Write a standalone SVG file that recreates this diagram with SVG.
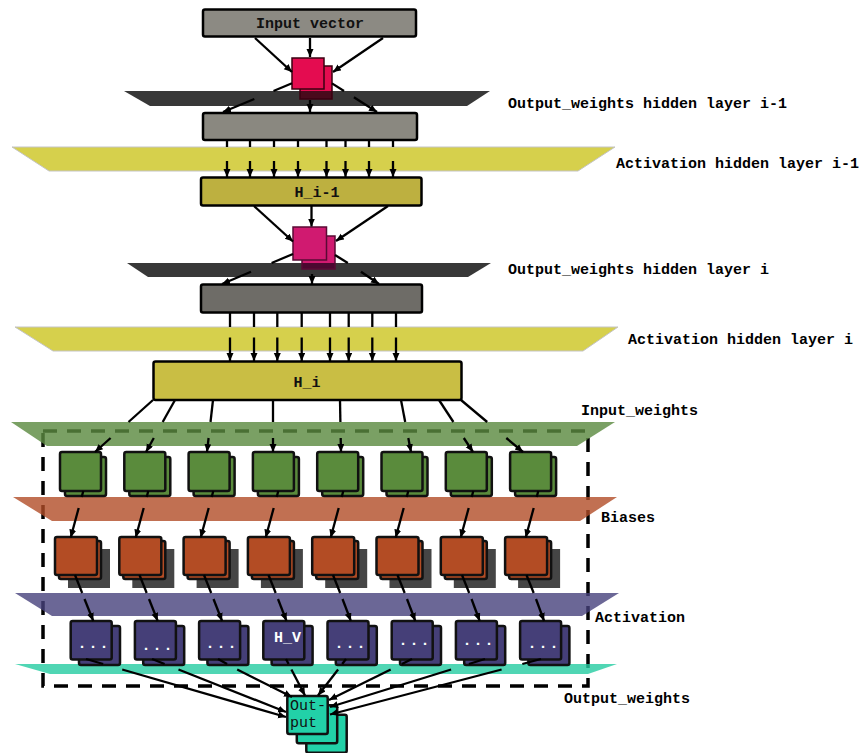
<svg xmlns="http://www.w3.org/2000/svg" width="867" height="753" viewBox="0 0 867 753">
<defs>
<style>
.box{stroke:#000;stroke-width:2.5}
.sq{stroke:#111;stroke-width:2.5}
.conn line{stroke:#000;stroke-width:2.3}
.a{marker-end:url(#ah)}
.lbl{font-family:"Liberation Mono","Courier New",monospace;font-weight:bold;font-size:15px;fill:#000}
.ntx{font-family:"Liberation Mono","Courier New",monospace;font-weight:bold;font-size:15px;fill:#111;text-anchor:middle}
.wtx{font-family:"Liberation Mono","Courier New",monospace;font-weight:bold;font-size:15px;fill:#fff;text-anchor:middle}
.ypl{fill:#d6d04c;stroke:#c4c4c4;stroke-width:1}
.dpl{fill:#383838}
</style>
<marker id="ah" markerUnits="userSpaceOnUse" markerWidth="9" markerHeight="8" refX="8" refY="3.5" orient="auto">
<path d="M0,0 L8,3.5 L0,7 z" fill="#000"/>
</marker>
<linearGradient id="gRed" gradientUnits="userSpaceOnUse" x1="0" y1="66" x2="0" y2="99">
<stop offset="0.758" stop-color="#e40c50"/><stop offset="0.758" stop-color="#4a0a1c"/>
</linearGradient>
<linearGradient id="gMag" gradientUnits="userSpaceOnUse" x1="0" y1="236" x2="0" y2="269">
<stop offset="0.818" stop-color="#d01a70"/><stop offset="0.818" stop-color="#4b0830"/>
</linearGradient>
<rect id="gsq" width="41" height="39" rx="2"/>
</defs>

<!-- dashed boundary under translucent planes -->
<rect id="boundary" x="43" y="431" width="545" height="255" fill="none" stroke="#000" stroke-width="3.5" stroke-dasharray="14 10"/>

<g id="planes">
<polygon id="plane-ow1" class="dpl" points="124,91 490,91 467,106 150,106"/>
<polygon id="plane-act1" class="ypl" points="12,147 615,147 578,171 49,171"/>
<polygon id="plane-ow2" class="dpl" points="127,263 491,263 468,277 148,277"/>
<polygon id="plane-act2" class="ypl" points="15,327 618,327 583,351 53,351"/>
<polygon id="plane-inw" points="11,422 615,422 577,446 47,446" fill="rgb(91,138,64)" fill-opacity="0.81"/>
<polygon id="plane-bias" points="13,497 617,497 580,521 52,521" fill="rgb(178,76,39)" fill-opacity="0.8"/>
<polygon id="plane-act" points="15,593 619,593 582,616 52,616" fill="rgb(70,65,124)" fill-opacity="0.8"/>
<polygon id="plane-outw" points="15,664 617,664 588,674 50,674" fill="rgb(36,204,161)" fill-opacity="0.8"/>
</g>

<g id="labels">
<text class="lbl" x="508" y="108">Output_weights hidden layer i-1</text>
<text class="lbl" x="616" y="168">Activation hidden layer i-1</text>
<text class="lbl" x="508" y="274">Output_weights hidden layer i</text>
<text class="lbl" x="628" y="344">Activation hidden layer i</text>
<text class="lbl" x="581" y="415">Input_weights</text>
<text class="lbl" x="601" y="522">Biases</text>
<text class="lbl" x="595" y="622">Activation</text>
<text class="lbl" x="564" y="703">Output_weights</text>
</g>

<g id="node-input">
<rect class="box" x="203" y="9.5" width="213" height="27" rx="2" fill="#8c8a83"/>
<text class="ntx" x="310" y="27.5">Input vector</text>
</g>
<g id="node-w1">
<rect x="300" y="66" width="32" height="33" fill="url(#gRed)" stroke="#3a0010" stroke-width="1.5"/>
<rect x="292" y="58" width="32" height="31" fill="#e40c50" stroke="#3a0010" stroke-width="1.5"/>
</g>
<g id="node-box2">
<rect class="box" x="203" y="113" width="214" height="27" rx="2" fill="#8a8880"/>
</g>
<g id="node-hi1">
<rect class="box" x="201" y="177.5" width="220.5" height="28" rx="2" fill="#bdb040"/>
<text class="ntx" x="317" y="197">H_i-1</text>
</g>
<g id="node-w2">
<rect x="302" y="236" width="33" height="33" fill="url(#gMag)" stroke="#5a0a35" stroke-width="1.5"/>
<rect x="293" y="227" width="33.5" height="33" fill="#d01a70" stroke="#5a0a35" stroke-width="1.5"/>
</g>
<g id="node-box3">
<rect class="box" x="201" y="284.5" width="221" height="28" rx="2" fill="#6e6c67"/>
</g>
<g id="node-hi">
<rect class="box" x="153.5" y="361.5" width="308" height="38.5" rx="2" fill="#c9be44"/>
<text class="ntx" x="307" y="387">H_i</text>
</g>

<g id="green-nodes" fill="#5a8b3c">
<g id="g1"><rect class="sq" x="65" y="457" width="41" height="39" rx="2"/><rect class="sq" x="60" y="452" width="41" height="39" rx="2"/></g>
<g id="g2"><rect class="sq" x="129.3" y="457" width="41" height="39" rx="2"/><rect class="sq" x="124.3" y="452" width="41" height="39" rx="2"/></g>
<g id="g3"><rect class="sq" x="193.6" y="457" width="41" height="39" rx="2"/><rect class="sq" x="188.6" y="452" width="41" height="39" rx="2"/></g>
<g id="g4"><rect class="sq" x="257.9" y="457" width="41" height="39" rx="2"/><rect class="sq" x="252.9" y="452" width="41" height="39" rx="2"/></g>
<g id="g5"><rect class="sq" x="322.2" y="457" width="41" height="39" rx="2"/><rect class="sq" x="317.2" y="452" width="41" height="39" rx="2"/></g>
<g id="g6"><rect class="sq" x="386.5" y="457" width="41" height="39" rx="2"/><rect class="sq" x="381.5" y="452" width="41" height="39" rx="2"/></g>
<g id="g7"><rect class="sq" x="450.8" y="457" width="41" height="39" rx="2"/><rect class="sq" x="445.8" y="452" width="41" height="39" rx="2"/></g>
<g id="g8"><rect class="sq" x="515.1" y="457" width="41" height="39" rx="2"/><rect class="sq" x="510.1" y="452" width="41" height="39" rx="2"/></g>
</g>

<g id="orange-nodes" fill="#b34c24">
<g id="o1"><rect x="68" y="549" width="42" height="39" fill="#454545"/><rect class="sq" x="59" y="541" width="42" height="38" rx="2"/><rect class="sq" x="55" y="537" width="42" height="38" rx="2"/></g>
<g id="o2"><rect x="132.3" y="549" width="42" height="39" fill="#454545"/><rect class="sq" x="123.3" y="541" width="42" height="38" rx="2"/><rect class="sq" x="119.3" y="537" width="42" height="38" rx="2"/></g>
<g id="o3"><rect x="196.6" y="549" width="42" height="39" fill="#454545"/><rect class="sq" x="187.6" y="541" width="42" height="38" rx="2"/><rect class="sq" x="183.6" y="537" width="42" height="38" rx="2"/></g>
<g id="o4"><rect x="260.9" y="549" width="42" height="39" fill="#454545"/><rect class="sq" x="251.9" y="541" width="42" height="38" rx="2"/><rect class="sq" x="247.9" y="537" width="42" height="38" rx="2"/></g>
<g id="o5"><rect x="325.2" y="549" width="42" height="39" fill="#454545"/><rect class="sq" x="316.2" y="541" width="42" height="38" rx="2"/><rect class="sq" x="312.2" y="537" width="42" height="38" rx="2"/></g>
<g id="o6"><rect x="389.5" y="549" width="42" height="39" fill="#454545"/><rect class="sq" x="380.5" y="541" width="42" height="38" rx="2"/><rect class="sq" x="376.5" y="537" width="42" height="38" rx="2"/></g>
<g id="o7"><rect x="453.8" y="549" width="42" height="39" fill="#454545"/><rect class="sq" x="444.8" y="541" width="42" height="38" rx="2"/><rect class="sq" x="440.8" y="537" width="42" height="38" rx="2"/></g>
<g id="o8"><rect x="518.1" y="549" width="42" height="39" fill="#454545"/><rect class="sq" x="509.1" y="541" width="42" height="38" rx="2"/><rect class="sq" x="505.1" y="537" width="42" height="38" rx="2"/></g>
</g>

<g id="purple-nodes" fill="#453f78">
<g id="p1"><rect class="sq" x="79" y="626" width="41" height="39" rx="2"/><rect class="sq" x="70.7" y="621" width="41" height="38.5" rx="2"/><text class="wtx" x="94" y="648" letter-spacing="2">...</text></g>
<g id="p2"><rect class="sq" x="143.2" y="626" width="41" height="39" rx="2"/><rect class="sq" x="134.9" y="621" width="41" height="38.5" rx="2"/><text class="wtx" x="158" y="650" letter-spacing="2">...</text></g>
<g id="p3"><rect class="sq" x="207.4" y="626" width="41" height="39" rx="2"/><rect class="sq" x="199.1" y="621" width="41" height="38.5" rx="2"/><text class="wtx" x="222" y="648" letter-spacing="2">...</text></g>
<g id="p4"><rect class="sq" x="271.6" y="626" width="41" height="39" rx="2"/><rect class="sq" x="263.3" y="621" width="41" height="38.5" rx="2"/><text class="wtx" x="287.5" y="642">H_V</text></g>
<g id="p5"><rect class="sq" x="335.8" y="626" width="41" height="39" rx="2"/><rect class="sq" x="327.5" y="621" width="41" height="38.5" rx="2"/><text class="wtx" x="351" y="648" letter-spacing="2">...</text></g>
<g id="p6"><rect class="sq" x="400" y="626" width="41" height="39" rx="2"/><rect class="sq" x="391.7" y="621" width="41" height="38.5" rx="2"/><text class="wtx" x="415" y="645" letter-spacing="2">...</text></g>
<g id="p7"><rect class="sq" x="464.2" y="626" width="41" height="39" rx="2"/><rect class="sq" x="455.9" y="621" width="41" height="38.5" rx="2"/><text class="wtx" x="479" y="645" letter-spacing="2">...</text></g>
<g id="p8"><rect class="sq" x="528.4" y="626" width="41" height="39" rx="2"/><rect class="sq" x="520.1" y="621" width="41" height="38.5" rx="2"/><text class="wtx" x="544" y="648" letter-spacing="2">...</text></g>
</g>

<g id="node-output" fill="#22d1a8">
<rect class="sq" x="306.3" y="714.7" width="40.4" height="38" rx="2"/>
<rect class="sq" x="296.8" y="705.3" width="40.4" height="38" rx="2"/>
<rect class="sq" x="287.3" y="696" width="40.4" height="38" rx="2"/>
<text x="290" y="710" font-family="Liberation Mono, Courier New, monospace" font-size="15" fill="#111">Out-</text>
<text x="290" y="727" font-family="Liberation Mono, Courier New, monospace" font-size="15" fill="#111">put</text>
</g>

<g id="connectors" class="conn">
<!-- input -> w1 -->
<line class="a" x1="255" y1="38" x2="292" y2="72"/>
<line class="a" x1="310" y1="38" x2="310" y2="57"/>
<line class="a" x1="383" y1="38" x2="333" y2="72"/>
<!-- w1 -> box2 -->
<line x1="292" y1="83.3" x2="273.5" y2="91"/>
<line class="a" x1="254.3" y1="99" x2="223" y2="112"/>
<line class="a" x1="310" y1="100" x2="310" y2="112"/>
<line x1="332" y1="83.4" x2="344" y2="91"/>
<line class="a" x1="353.9" y1="97.3" x2="377" y2="112"/>
<!-- box2 -> H_i-1 -->
<line x1="227" y1="140" x2="227" y2="147"/><line class="a" x1="227" y1="161" x2="227" y2="177"/>
<line x1="250" y1="140" x2="250" y2="147"/><line class="a" x1="250" y1="161" x2="250" y2="177"/>
<line x1="274" y1="140" x2="274" y2="147"/><line class="a" x1="274" y1="161" x2="274" y2="177"/>
<line x1="298" y1="140" x2="298" y2="147"/><line class="a" x1="298" y1="161" x2="298" y2="177"/>
<line x1="326.5" y1="140" x2="326.5" y2="147"/><line class="a" x1="326.5" y1="161" x2="326.5" y2="177"/>
<line x1="345.5" y1="140" x2="345.5" y2="147"/><line class="a" x1="345.5" y1="161" x2="345.5" y2="177"/>
<line x1="369" y1="140" x2="369" y2="147"/><line class="a" x1="369" y1="161" x2="369" y2="177"/>
<line x1="393" y1="140" x2="393" y2="147"/><line class="a" x1="393" y1="161" x2="393" y2="177"/>
<!-- H_i-1 -> w2 -->
<line class="a" x1="254" y1="206" x2="293" y2="241.5"/>
<line class="a" x1="311.5" y1="206" x2="311.5" y2="226.5"/>
<line class="a" x1="388" y1="206" x2="336" y2="241"/>
<!-- w2 -> box3 -->
<line x1="293" y1="254" x2="271.6" y2="263"/>
<line class="a" x1="251" y1="271.7" x2="222" y2="284"/>
<line class="a" x1="312" y1="274" x2="312" y2="284"/>
<line x1="335" y1="255" x2="347.8" y2="263"/>
<line class="a" x1="361" y1="271.7" x2="379" y2="284"/>
<!-- box3 -> H_i -->
<line x1="230" y1="312" x2="230" y2="327"/><line class="a" x1="230" y1="337.5" x2="230" y2="361"/>
<line x1="254" y1="312" x2="254" y2="327"/><line class="a" x1="254" y1="337.5" x2="254" y2="361"/>
<line x1="277.3" y1="312" x2="277.3" y2="327"/><line class="a" x1="277.3" y1="337.5" x2="277.3" y2="361"/>
<line x1="301.7" y1="312" x2="301.7" y2="327"/><line class="a" x1="301.7" y1="337.5" x2="301.7" y2="361"/>
<line x1="330" y1="312" x2="330" y2="327"/><line class="a" x1="330" y1="337.5" x2="330" y2="361"/>
<line x1="348.7" y1="312" x2="348.7" y2="327"/><line class="a" x1="348.7" y1="337.5" x2="348.7" y2="361"/>
<line x1="372.3" y1="312" x2="372.3" y2="327"/><line class="a" x1="372.3" y1="337.5" x2="372.3" y2="361"/>
<line x1="396" y1="312" x2="396" y2="327"/><line class="a" x1="396" y1="337.5" x2="396" y2="361"/>
<!-- H_i -> input weights squares -->
<line x1="153" y1="400" x2="128.5" y2="422"/><line class="a" x1="110.6" y1="438" x2="95" y2="452"/>
<line x1="175" y1="400" x2="162.7" y2="422"/><line class="a" x1="153.8" y1="438" x2="146" y2="452"/>
<line x1="213" y1="400" x2="210.5" y2="422"/><line class="a" x1="208.6" y1="438" x2="207" y2="452"/>
<line x1="273" y1="400" x2="273" y2="422"/><line class="a" x1="273" y1="438" x2="273" y2="452"/>
<line x1="340" y1="400" x2="340.4" y2="422"/><line class="a" x1="340.7" y1="438" x2="341" y2="452"/>
<line x1="401" y1="400" x2="405.2" y2="422"/><line class="a" x1="408.3" y1="438" x2="411" y2="452"/>
<line x1="439" y1="400" x2="453.4" y2="422"/><line class="a" x1="463.8" y1="438" x2="473" y2="452"/>
<line x1="461" y1="400" x2="487.2" y2="422"/><line class="a" x1="506.3" y1="438" x2="523" y2="452"/>
<!-- green -> orange -->
<line x1="83.3" y1="491" x2="81.7" y2="497"/><line class="a" x1="78.7" y1="508" x2="70.7" y2="537.5"/>
<line x1="148.3" y1="491" x2="146.7" y2="497"/><line class="a" x1="143.7" y1="508" x2="135.7" y2="537.5"/>
<line x1="213.3" y1="491" x2="211.7" y2="497"/><line class="a" x1="208.7" y1="508" x2="200.7" y2="537.5"/>
<line x1="278.3" y1="491" x2="276.7" y2="497"/><line class="a" x1="273.7" y1="508" x2="265.7" y2="537.5"/>
<line x1="343.3" y1="491" x2="341.7" y2="497"/><line class="a" x1="338.7" y1="508" x2="330.7" y2="537.5"/>
<line x1="408.3" y1="491" x2="406.7" y2="497"/><line class="a" x1="403.7" y1="508" x2="395.7" y2="537.5"/>
<line x1="473.3" y1="491" x2="471.7" y2="497"/><line class="a" x1="468.7" y1="508" x2="460.7" y2="537.5"/>
<line x1="538.3" y1="491" x2="536.7" y2="497"/><line class="a" x1="533.7" y1="508" x2="525.7" y2="537.5"/>
<!-- orange -> purple -->
<line x1="75" y1="575" x2="82.2" y2="593"/><line class="a" x1="84.5" y1="599" x2="93.3" y2="621"/>
<line x1="139.5" y1="575" x2="146.7" y2="593"/><line class="a" x1="149" y1="599" x2="157.7" y2="621"/>
<line x1="204" y1="575" x2="211.2" y2="593"/><line class="a" x1="213.5" y1="599" x2="222.1" y2="621"/>
<line x1="268.5" y1="575" x2="275.7" y2="593"/><line class="a" x1="278" y1="599" x2="286.5" y2="621"/>
<line x1="333" y1="575" x2="340.2" y2="593"/><line class="a" x1="342.5" y1="599" x2="350.9" y2="621"/>
<line x1="397.5" y1="575" x2="404.7" y2="593"/><line class="a" x1="407" y1="599" x2="415.3" y2="621"/>
<line x1="462" y1="575" x2="469.2" y2="593"/><line class="a" x1="471.5" y1="599" x2="479.7" y2="621"/>
<line x1="526.5" y1="575" x2="533.7" y2="593"/><line class="a" x1="536" y1="599" x2="544.1" y2="621"/>
<!-- purple -> output -->
<line x1="86" y1="659" x2="103.2" y2="664"/><line class="a" x1="122.2" y1="669.5" x2="286" y2="717"/>
<line x1="152" y1="659" x2="164.6" y2="664"/><line class="a" x1="178.5" y1="669.5" x2="286" y2="712"/>
<line x1="218" y1="659" x2="227.1" y2="664"/><line class="a" x1="237.2" y1="669.5" x2="292" y2="697"/>
<line x1="286" y1="659" x2="288.6" y2="664"/><line class="a" x1="291.4" y1="669.5" x2="305" y2="695.5"/>
<line x1="346" y1="659" x2="342.2" y2="664"/><line class="a" x1="338.1" y1="669.5" x2="318" y2="695.5"/>
<line x1="412" y1="659" x2="401.9" y2="664"/><line class="a" x1="390.7" y1="669.5" x2="329" y2="700"/>
<line x1="485" y1="659" x2="468.9" y2="664"/><line class="a" x1="451.1" y1="669.5" x2="330" y2="707"/>
<line x1="541" y1="659" x2="522.3" y2="664"/><line class="a" x1="501.6" y1="669.5" x2="330" y2="714.5"/>
</g>
</svg>
